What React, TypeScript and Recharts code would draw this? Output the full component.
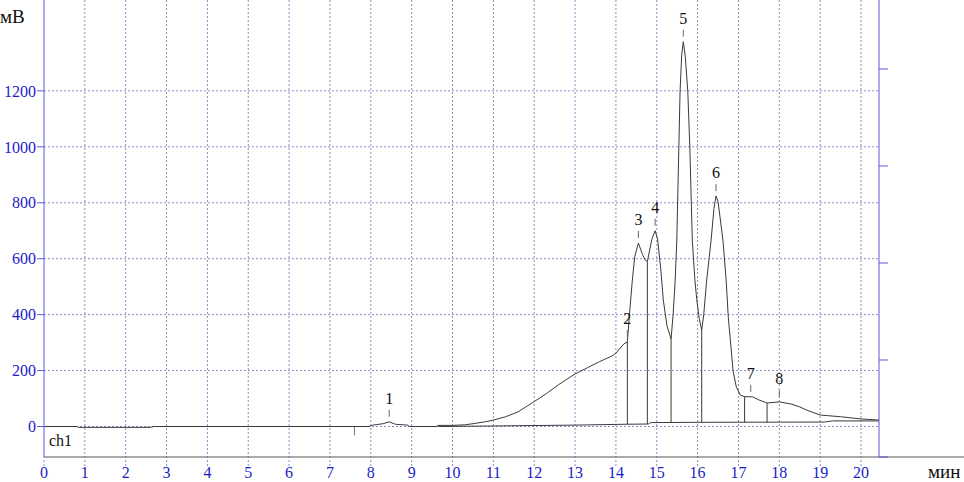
import { ComposedChart, Line, Scatter, XAxis, YAxis, CartesianGrid, ReferenceLine } from 'recharts';

// chromatogram trace, minutes -> mV
const traceTimes = [0, 0.8, 0.85, 2.6, 2.7, 7.95, 8.05, 8.3, 8.45, 8.6, 8.9, 8.95, 9.6, 9.65, 10.0, 10.3, 10.5, 10.8, 11.0, 11.3, 11.6, 12.0, 12.3, 12.6, 13.0, 13.3, 13.6, 13.9, 14.0, 14.1, 14.2, 14.28, 14.34, 14.4, 14.46, 14.55, 14.65, 14.72, 14.77, 14.88, 14.96, 15.02, 15.1, 15.16, 15.25, 15.35, 15.4, 15.45, 15.49, 15.54, 15.57, 15.61, 15.65, 15.7, 15.76, 15.81, 15.87, 15.93, 15.98, 16.04, 16.1, 16.15, 16.22, 16.28, 16.33, 16.4, 16.45, 16.5, 16.62, 16.7, 16.75, 16.87, 16.95, 17.05, 17.15, 17.35, 17.5, 17.7, 18.0, 18.3, 18.5, 18.7, 19.0, 19.5, 20.0, 20.44];
const traceValues = [0, 0, -3, -3, 0, 0, 5, 10, 17, 8, 5, 0, 0, 4, 4, 6, 10, 17, 23, 35, 52, 89, 118, 150, 188, 210, 232, 252, 262, 280, 296, 302, 416, 520, 607, 656, 615, 595, 590, 670, 700, 670, 560, 452, 360, 313, 400, 520, 666, 996, 1196, 1330, 1376, 1320, 1196, 996, 666, 530, 452, 385, 345, 400, 520, 600, 666, 780, 824, 805, 666, 520, 392, 196, 140, 112, 107, 106, 95, 84, 88, 80, 70, 57, 41, 35, 27, 23];

// integration baseline
const baseTimes = [9.65, 11.0, 13.0, 14.2, 14.8, 14.85, 16.0, 19.1, 19.3, 20.44];
const baseValues = [0, 2, 5, 8, 9, 14, 15, 16, 20, 20];

// drop lines between peaks
const dropTimes = [14.28, 14.77, 15.35, 16.1, 17.15, 17.7];
const dropTops = [302, 590, 313, 345, 107, 84];
const dropBases = [8, 9, 15, 15, 15, 15];

// peak labels
const peakNames = ['1', '2', '3', '4', '5', '6', '7', '8'];
const peakTimes = [8.45, 14.28, 14.55, 14.96, 15.65, 16.45, 17.3, 18.0];
const peakValues = [17, 302, 656, 700, 1376, 824, 106, 88];

const xTicks = [0, 1, 2, 3, 4, 5, 6, 7, 8, 9, 10, 11, 12, 13, 14, 15, 16, 17, 18, 19, 20];
const yTicks = [0, 200, 400, 600, 800, 1000, 1200];
const rightTicks = [0, 1, 2, 3, 4];

const trace = traceTimes.map((t, i) => ({ t, v: traceValues[i] }));
const baseline = baseTimes.map((t, i) => ({ t, v: baseValues[i] }));
const peaks = peakTimes.map((t, i) => ({ t, v: peakValues[i], name: peakNames[i] }));

const FONT = '"Liberation Serif", "DejaVu Serif", serif';
const AXIS = '#5a5ad6';
const LABEL = '#1c1cc8';
const GRID = '#8a8ac8';
const INK = '#3a3a3a';

const PeakMark = (props: any) => {
  const { cx, cy, payload } = props;
  if (cx == null || cy == null) return <g />;
  return (
    <g>
      <line x1={cx} x2={cx} y1={cy - 12} y2={cy - 5} stroke="#666" strokeWidth={1} />
      <text x={cx} y={cy - 18} textAnchor="middle" fontSize={16} fontFamily={FONT} fill="#111">
        {payload.name}
      </text>
    </g>
  );
};

export default function App() {
  return (
    <div style={{ position: 'absolute', left: 0, top: 0, width: 964, height: 482, background: '#fff' }}>
      <ComposedChart width={964} height={482} margin={{ top: 0, right: 0, left: 0, bottom: 0 }}>
        <CartesianGrid yAxisId="l" stroke={GRID} strokeDasharray="2 2" horizontalValues={yTicks} verticalValues={xTicks.slice(1)} />
        <XAxis
          type="number"
          dataKey="t"
          domain={[0, 20.44]}
          allowDataOverflow
          ticks={xTicks}
          height={25}
          axisLine={false}
          tickSize={9}
          tickMargin={1}
          tickLine={{ stroke: GRID, strokeDasharray: '2 2' }}
          tick={{ fill: LABEL, fontSize: 16, fontFamily: FONT }}
        />
        <YAxis
          yAxisId="l"
          type="number"
          domain={[-109, 1525]}
          allowDataOverflow
          ticks={yTicks}
          width={44}
          axisLine={{ stroke: AXIS }}
          tickLine={{ stroke: AXIS }}
          tickSize={7}
          tickMargin={1}
          tick={{ fill: LABEL, fontSize: 16, fontFamily: FONT }}
        />
        <YAxis
          yAxisId="r"
          orientation="right"
          type="number"
          domain={[0, 4.711]}
          allowDataOverflow
          ticks={rightTicks}
          width={85}
          axisLine={{ stroke: AXIS }}
          tickLine={{ stroke: AXIS }}
          tickSize={9}
          tick={() => <g />}
        />
        <ReferenceLine yAxisId="l" segment={[{ x: 0, y: -109 }, { x: 22.7, y: -109 }]} stroke="#555" ifOverflow="visible" />
        <ReferenceLine yAxisId="l" segment={[{ x: 7.6, y: 0 }, { x: 7.6, y: -32 }]} stroke="#777" />
        {dropTimes.map((t, i) => (
          <ReferenceLine
            key={i}
            yAxisId="l"
            segment={[{ x: t, y: dropBases[i] }, { x: t, y: dropTops[i] }]}
            stroke={INK}
          />
        ))}
        <Line yAxisId="l" data={baseline} dataKey="v" type="linear" stroke={INK} strokeWidth={1} dot={false} isAnimationActive={false} />
        <Line yAxisId="l" data={trace} dataKey="v" type="linear" stroke={INK} strokeWidth={1} dot={false} isAnimationActive={false} />
        <Scatter yAxisId="l" data={peaks} dataKey="v" shape={PeakMark} isAnimationActive={false} />
      </ComposedChart>
      <div style={{ position: 'absolute', left: 0, top: 7, fontFamily: FONT, fontSize: 19, color: '#111', lineHeight: '20px' }}>мВ</div>
      <div style={{ position: 'absolute', left: 49, top: 432, fontFamily: FONT, fontSize: 16, color: '#111', lineHeight: '18px' }}>ch1</div>
      <div style={{ position: 'absolute', left: 928, top: 463, fontFamily: FONT, fontSize: 19, color: '#111', lineHeight: '18px' }}>мин</div>
    </div>
  );
}
